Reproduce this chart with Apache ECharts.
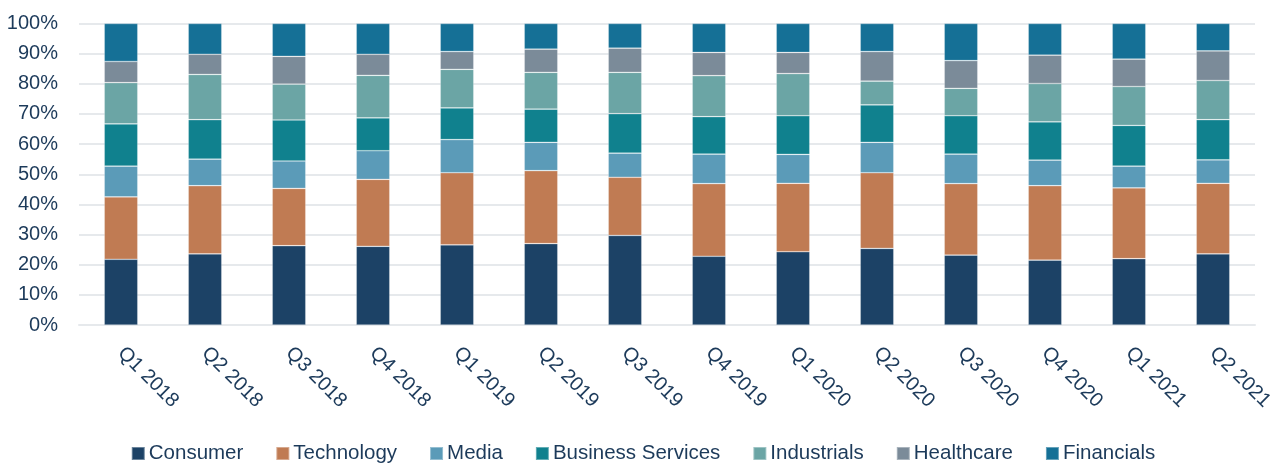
<!DOCTYPE html>
<html>
<head>
<meta charset="utf-8">
<script src="https://cdn.jsdelivr.net/npm/echarts@6/dist/echarts.min.js"></script>
<style>
html,body{margin:0;padding:0;background:#fff;}
#chart{width:1286px;height:463px;}
</style>
</head>
<body>
<div id="chart"></div>
<script>
const categories = ["Q1 2018","Q2 2018","Q3 2018","Q4 2018","Q1 2019","Q2 2019","Q3 2019","Q4 2019","Q1 2020","Q2 2020","Q3 2020","Q4 2020","Q1 2021","Q2 2021"];
const consumer    = [21.8, 23.6, 26.3, 26.1, 26.6, 27.0, 29.7, 22.8, 24.3, 25.4, 23.2, 21.5, 22.0, 23.6];
const technology  = [20.7, 22.6, 19.0, 22.2, 23.9, 24.2, 19.3, 24.1, 22.7, 25.1, 23.7, 24.7, 23.5, 23.4];
const media       = [10.2,  8.8,  9.1,  9.5, 11.0,  9.4,  8.0,  9.8,  9.6, 10.1,  9.8,  8.5,  7.2,  7.8];
const business    = [14.0, 13.1, 13.6, 10.9, 10.5, 11.0, 13.1, 12.4, 12.8, 12.4, 12.7, 12.7, 13.5, 13.3];
const industrials = [13.7, 15.0, 11.9, 14.1, 12.8, 12.2, 13.7, 13.6, 14.0,  7.9,  9.1, 12.7, 12.9, 13.0];
const healthcare  = [ 7.0,  6.7,  9.2,  7.0,  5.9,  7.7,  8.0,  7.7,  7.0,  9.8,  9.2,  9.4,  9.1,  9.8];
const financials  = [12.6, 10.2, 10.9, 10.2,  9.3,  8.5,  8.2,  9.6,  9.6,  9.3, 12.3, 10.5, 11.8,  9.1];
const yTicks = [0,10,20,30,40,50,60,70,80,90,100];

const seriesDefs = [
  ["Consumer", consumer, "#1c4266"],
  ["Technology", technology, "#c07b53"],
  ["Media", media, "#5b9bb8"],
  ["Business Services", business, "#10818e"],
  ["Industrials", industrials, "#6ba5a5"],
  ["Healthcare", healthcare, "#7b8b99"],
  ["Financials", financials, "#157096"]
];
const textColor = "#1c3a5a";
const font = "'Liberation Sans', Arial, sans-serif";

const chart = echarts.init(document.getElementById('chart'), null, {renderer:'canvas'});
chart.setOption({
  animation: false,
  textStyle: {fontFamily: font},
  grid: {left: 79, right: 31, top: 23.5, bottom: 138, containLabel: false},
  legend: {
    bottom: -6,
    left: 'center',
    itemWidth: 13, itemHeight: 13, itemGap: 32,
    icon: 'rect',
    textStyle: {fontSize: 20.5, color: textColor, fontFamily: font, padding: [0,0,0,-1]},
    data: seriesDefs.map(s => s[0])
  },
  xAxis: {
    type: 'category',
    data: categories,
    axisLine: {show: true, lineStyle: {color: '#e6e9ec', width: 2}},
    axisTick: {show: false},
    axisLabel: {rotate: -45, color: textColor, fontSize: 20, fontFamily: font, margin: 25, interval: 0}
  },
  yAxis: {
    type: 'value',
    min: 0, max: 100, interval: 10,
    axisLine: {show: false},
    axisTick: {show: false},
    splitLine: {lineStyle: {color: '#e6e9ec', width: 2}},
    axisLabel: {color: textColor, fontSize: 20, fontFamily: font, margin: 21,
      formatter: v => yTicks.includes(v) ? v + '%' : ''}
  },
  series: seriesDefs.map(s => ({
    name: s[0],
    type: 'bar',
    stack: 'total',
    barWidth: '40%',
    data: s[1],
    itemStyle: {color: s[2], borderColor: 'rgba(255,255,255,0.35)', borderWidth: 0.7}
  }))
});
</script>
</body>
</html>
